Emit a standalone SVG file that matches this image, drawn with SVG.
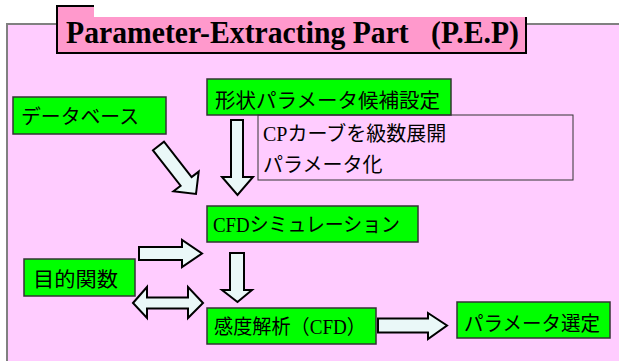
<svg xmlns="http://www.w3.org/2000/svg" width="619" height="361" viewBox="0 0 619 361">
<style>
.node{fill:#00FF00;stroke:#333;stroke-width:1.5}
.lbl{font-family:"Liberation Serif","Noto Sans CJK JP",serif;font-size:20px;fill:#000}
.arr{fill:#EAF8F8;stroke:#000;stroke-width:2;stroke-linejoin:miter}
</style>
<rect width="619" height="361" fill="#FFFFFF"/>
<rect id="panel" x="7" y="24" width="630" height="360" fill="#FFCCFF" stroke="#808080" stroke-width="2"/>
<g id="title">
<rect x="57" y="6" width="469" height="47" fill="#FF99CC" stroke="#000" stroke-width="2"/>
<rect x="94" y="0" width="440" height="17" fill="#FFFFFF"/>
<rect x="94" y="17" width="431" height="3" fill="#FF99CC"/>
<text x="66" y="43" font-family="Liberation Serif" font-weight="bold" font-size="32" style="white-space:pre" xml:space="preserve" textLength="453" lengthAdjust="spacingAndGlyphs">Parameter-Extracting Part   (P.E.P)</text>
</g>
<g id="connectors">
<polygon class="arr" points="231,120 243,120 243,177 253,177 237.5,195 222,177 231,177"/>
<polygon class="arr" points="153,150.3 164,141.7 191.6,177.1 198.7,171.6 196,194 173.5,191.2 180.6,185.7"/>
<polygon class="arr" points="139,247 182,247 182,240 202,253.5 182,267 182,260 139,260"/>
<polygon class="arr" points="230,253 244,253 244,290 252,290 237.5,302 222,290 230,290"/>
<polygon class="arr" points="133,303 147,287 147,297.5 188,297.5 188,287 203,303 188,318 188,308.5 147,308.5 147,318"/>
<polygon class="arr" points="378,318.5 428,318.5 428,313 447,325.5 428,339 428,332.5 378,332.5"/>
</g>
<g id="shape-params">
<rect class="node" x="207" y="79" width="244" height="36"/>
<text class="lbl" x="215" y="108" font-size="21" textLength="225" lengthAdjust="spacingAndGlyphs">形状パラメータ候補設定</text>
</g>
<g id="database">
<rect class="node" x="13" y="97" width="153" height="37"/>
<text class="lbl" x="21" y="124" textLength="118" lengthAdjust="spacingAndGlyphs">データベース</text>
</g>
<g id="cp-note">
<rect x="258" y="115" width="315" height="65" fill="none" stroke="#333" stroke-width="1"/>
<text class="lbl" x="263" y="141">CPカーブを級数展開</text>
<text class="lbl" x="263" y="172">パラメータ化</text>
</g>
<g id="cfd-sim">
<rect class="node" x="207" y="206" width="211" height="36"/>
<text class="lbl" x="213" y="232" textLength="187" lengthAdjust="spacingAndGlyphs">CFDシミュレーション</text>
</g>
<g id="objective">
<rect class="node" x="24" y="259" width="111" height="37"/>
<text class="lbl" x="33" y="287" font-size="21" textLength="85" lengthAdjust="spacingAndGlyphs">目的関数</text>
</g>
<g id="sensitivity">
<rect class="node" x="207" y="308" width="169" height="36"/>
<text class="lbl" x="214" y="334" textLength="152" lengthAdjust="spacingAndGlyphs">感度解析（CFD）</text>
</g>
<g id="param-select">
<rect class="node" x="457" y="302" width="153" height="36"/>
<text class="lbl" x="464" y="331" textLength="136" lengthAdjust="spacingAndGlyphs">パラメータ選定</text>
</g>
</svg>
